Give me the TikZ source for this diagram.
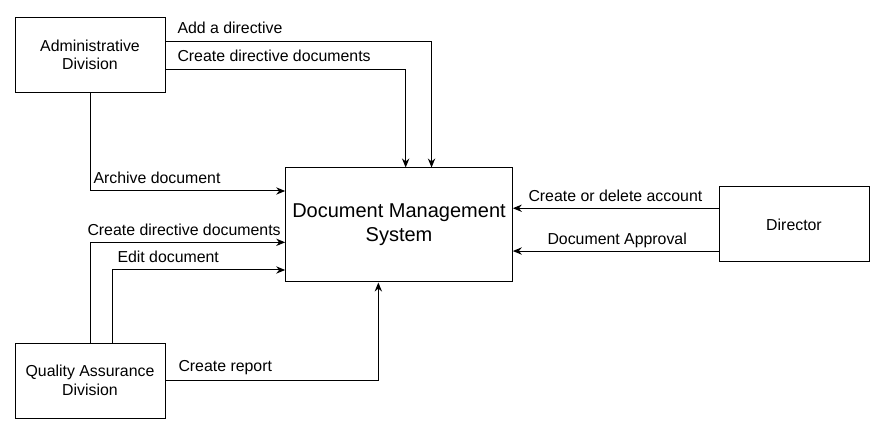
\documentclass[tikz,border=0pt]{standalone}
\usepackage{fontspec}
\setmainfont{Liberation Sans}
\usetikzlibrary{arrows.meta}

\begin{document}
\begin{tikzpicture}[->,>={Stealth[length=6.75pt,width=5.5pt,inset=2.2pt]},
                    x=0.75pt,y=-0.75pt,line width=0.75pt,
                    font=\fontsize{11.9}{13.8}\selectfont,
                    entity/.style={draw,-,align=center,inner sep=0pt,
                                   minimum width=112.5pt,minimum height=56.25pt},
                    flow/.style={inner sep=0pt,anchor=west}]
  \useasboundingbox (0,0) rectangle (884,434);

  \node[entity]   (admin)    at (90,55)    {Administrative\\Division};
  \node[entity,minimum width=170pt,minimum height=85.5pt,
        font=\fontsize{15}{18}\selectfont]
                  (dms)      at (399,225)  {Document Management\\System};
  \node[entity]   (director) at (794,224.5) {Director};
  \node[entity]   (qa)       at (90,380.5) {Quality Assurance\\Division};

  % admin -> dms
  \draw ([yshift=10pt]admin.east) -| ([xshift=24.4pt]dms.north);
  \draw ([yshift=-10.7pt]admin.east) -| ([xshift=5pt]dms.north);
  \draw (admin.south) |- ([yshift=25.5pt]dms.west);

  % qa -> dms
  \draw (qa.north) |- ([yshift=-13pt]dms.west);
  \draw ([xshift=17pt]qa.north) |- ([yshift=-33.75pt]dms.west);
  \draw (qa.east) -| ([xshift=-15.5pt]dms.south);

  % director -> dms
  \draw ([yshift=12.2pt]director.west) -- ([yshift=12.2pt]director.west -| dms.east);
  \draw ([yshift=-19.9pt]director.west) -- ([yshift=-19.9pt]director.west -| dms.east);

  \node[flow] (addlbl)     at (177,27.7)  {Add a directive};
  \node[flow] (createlbl)  at (177,56)    {Create directive documents};
  \node[flow] (archivelbl) at (93,178)    {Archive document};
  \node[flow] (qacreatelbl) at (87,230)   {Create directive documents};
  \node[flow] (editlbl)    at (117,257)   {Edit document};
  \node[flow] (reportlbl)  at (178,368)   {Create report};
  \node[flow] (accountlbl) at (528,196)   {Create or delete account};
  \node[flow] (approvallbl) at (547,240.7) {Document Approval};
\end{tikzpicture}
\end{document}
